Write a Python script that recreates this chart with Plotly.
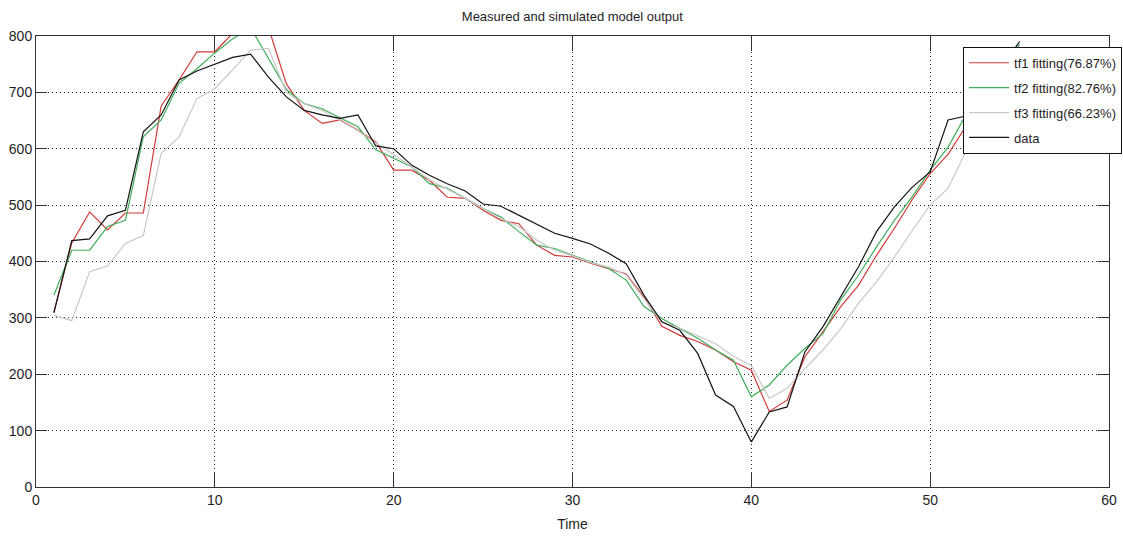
import plotly.graph_objects as go

# Sample times
time = list(range(1, 56))

# Measured output
data = [309, 437, 440, 481, 491, 630, 660, 722, 738, 750,
        762, 768, 727, 692, 668, 660, 654, 660, 605, 600,
        571, 553, 538, 525, 502, 498, 482, 465, 450, 441,
        431, 415, 396, 340, 293, 278, 237, 163, 143, 80,
        133, 142, 240, 284, 337, 391, 453, 497, 532, 559,
        651, 658, 700, 745, 790]

# Simulated outputs of the three transfer-function models
tf1 = [310, 433, 488, 456, 486, 486, 676, 722, 772, 772,
       805, 830, 815, 715, 668, 645, 651, 633, 612, 562,
       562, 544, 514, 512, 491, 473, 467, 429, 411, 408,
       397, 388, 378, 337, 285, 269, 258, 243, 222, 207,
       134, 154, 231, 275, 320, 358, 411, 459, 510, 556,
       590, 640, 690, 735, 780]

tf2 = [340, 420, 420, 462, 473, 621, 651, 716, 742, 770,
       795, 815, 760, 705, 680, 671, 655, 639, 598, 583,
       568, 538, 530, 512, 494, 479, 453, 429, 423, 411,
       400, 388, 367, 320, 299, 281, 264, 243, 225, 160,
       181, 216, 246, 272, 332, 376, 426, 473, 515, 562,
       603, 660, 705, 745, 785]

tf3 = [305, 295, 382, 392, 432, 446, 592, 621, 689, 707,
       740, 775, 778, 700, 680, 668, 650, 632, 610, 590,
       568, 545, 528, 512, 494, 476, 462, 438, 420, 410,
       398, 390, 376, 335, 292, 282, 268, 254, 232, 215,
       157, 175, 210, 243, 281, 326, 364, 408, 455, 500,
       530, 595, 640, 690, 735]

series_names = ["tf1 fitting(76.87%)", "tf2 fitting(82.76%)",
                "tf3 fitting(66.23%)", "data"]
series_colors = ["#d23a3a", "#3fae5a", "#c8c8c8", "#141414"]

x_ticks = [0, 10, 20, 30, 40, 50, 60]
y_ticks = [0, 100, 200, 300, 400, 500, 600, 700, 800]

FONT = "Liberation Sans, Arial, sans-serif"
FS = 13
TICK_FS = 14
TEXT = "#1e1e1e"

fig = go.Figure()
for i, (name, ys, col) in enumerate(zip(series_names, [tf1, tf2, tf3, data], series_colors)):
    fig.add_trace(go.Scatter(
        x=time, y=ys, mode="lines", name=name, legendgroup=f"g{i}",
        line=dict(color=col, width=1.2),
    ))

axis_common = dict(
    showline=True, linecolor="#333333", linewidth=1, mirror="ticks",
    ticks="inside", tickcolor="#333333", tickwidth=1,
    showgrid=True, gridcolor="#222222", gridwidth=1, griddash="1px,3px",
    zeroline=False, tickfont=dict(family=FONT, size=TICK_FS, color=TEXT),
)

fig.update_xaxes(range=[0, 60], tickvals=x_ticks, ticklen=15,
                 title=dict(text="Time", font=dict(family=FONT, size=TICK_FS, color=TEXT), standoff=12),
                 **axis_common)
fig.update_yaxes(range=[0, 800], tickvals=y_ticks, ticklen=11, **axis_common)

fig.update_layout(
    width=1123, height=536,
    margin=dict(l=36, r=14, t=36, b=49, autoexpand=False),
    paper_bgcolor="white", plot_bgcolor="white",
    font=dict(family=FONT, size=FS, color=TEXT),
    title=dict(text="Measured and simulated model output", x=0.5097, xanchor="center",
               y=1 - 16 / 536, yanchor="middle", yref="container",
               font=dict(family=FONT, size=FS, color=TEXT)),
    showlegend=True,
    legend=dict(x=0.864, y=0.976, xanchor="left", yanchor="top",
                bgcolor="white", bordercolor="#111111", borderwidth=1,
                font=dict(family=FONT, size=FS, color=TEXT),
                itemwidth=40, tracegroupgap=5, traceorder="grouped"),
)

fig.write_html("out.html")
